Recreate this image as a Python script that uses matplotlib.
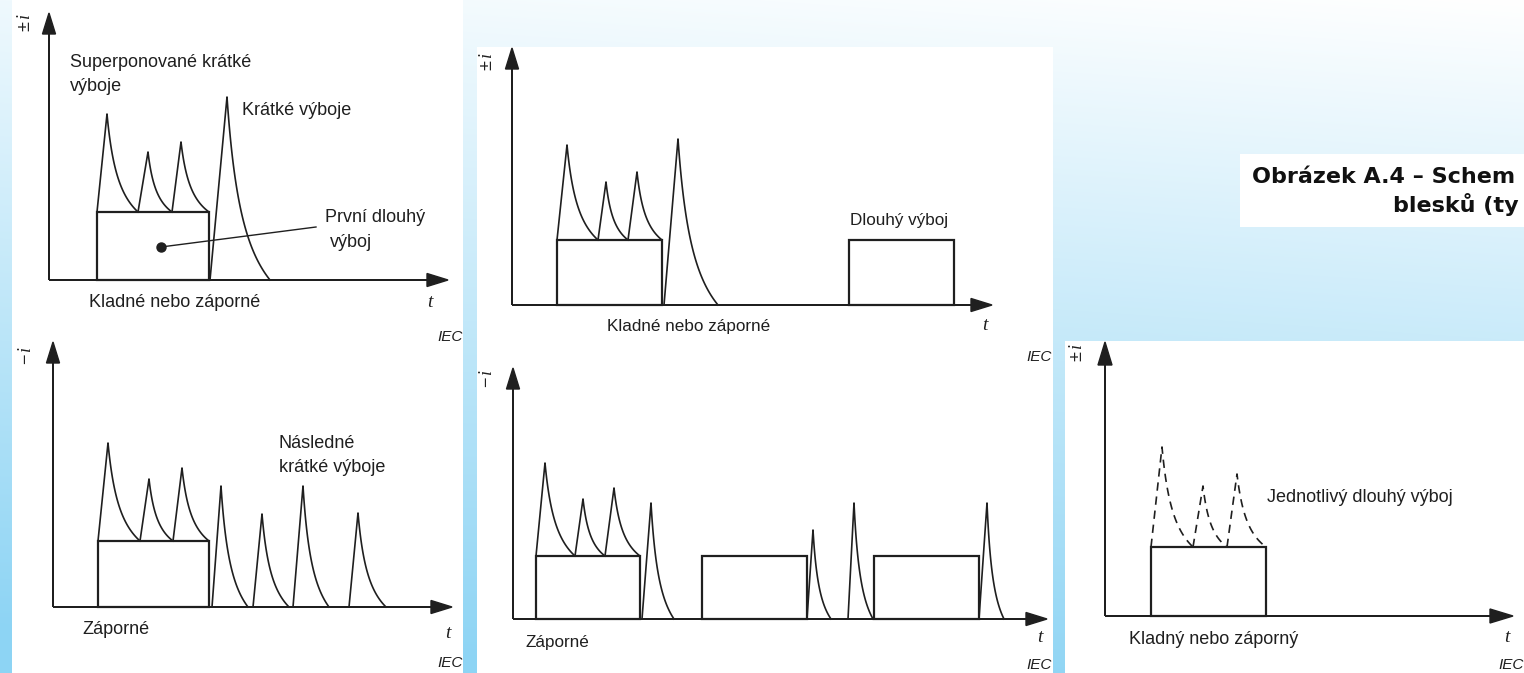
import numpy as np
import matplotlib.pyplot as plt
from matplotlib.patches import Rectangle

plt.rcParams['font.family'] = ['Liberation Sans', 'DejaVu Sans']
plt.rcParams['mathtext.fontset'] = 'custom'
plt.rcParams['mathtext.rm'] = 'Liberation Sans'
plt.rcParams['mathtext.it'] = 'Liberation Serif:italic'

W, H = 1524, 673
INK = '#1f1f1f'
SKY = np.array([141, 212, 244]) / 255.0

# ---- data: schematic time t / current i, measured from each panel's origin
# long strokes: (start, end, level); pulses: (start, t_peak, i_peak, end)
A_LONG = [(48, 160, 68)]
A_SUPER = [(48, 58, 166, 89), (89, 99, 128, 123), (123, 132, 138, 160)]
A_SHORT = [(161, 178, 183, 221)]

B_LONG = [(45, 150, 65), (337, 442, 65)]
B_SUPER = [(45, 55, 160, 86), (86, 94, 123, 116), (116, 125, 133, 150)]
B_SHORT = [(152, 166, 166, 206)]

C_LONG = [(45, 156, 66)]
C_SUPER = [(45, 55, 164, 87), (87, 96, 128, 120), (120, 129, 139, 156)]
C_SHORT = [(159, 168, 121, 195), (200, 209, 93, 236), (240, 250, 121, 276), (296, 305, 94, 333)]

D_LONG = [(23, 127, 63), (189, 294, 63), (361, 466, 63)]
D_SUPER = [(23, 32, 156, 62), (62, 70, 120, 92), (92, 101, 131, 127)]
D_SHORT = [(129, 138, 116, 161), (294, 300, 89, 318), (335, 341, 116, 360), (466, 474, 116, 491)]

E_LONG = [(46, 161, 69)]
E_SUPER = [(46, 57, 169, 88), (88, 98, 130, 122), (122, 132, 142, 161)]

fig = plt.figure(figsize=(W / 100, H / 100), dpi=100)

# pozadi s prechodem do modre
bg = fig.add_axes([0, 0, 1, 1])
yy, xx = np.mgrid[0:H, 0:W]
k = np.clip(yy / H * 0.92 + (1 - xx / W) * 0.14, 0, 1)[..., None]
bg.imshow(1 - k * (1 - SKY), extent=(0, W, H, 0), aspect='auto')
bg.set_xlim(0, W)
bg.set_ylim(H, 0)
bg.axis('off')
for x0, y0, x1, y1 in [(12, 0, 463, H), (477, 47, 1053, H), (1065, 341, W, H), (1240, 154, W, 227)]:
    bg.add_patch(Rectangle((x0, y0), x1 - x0, y1 - y0, fc='white', ec='none'))
bg.text(1252, 177, 'Obrázek A.4 – Schem', fontfamily=['DejaVu Sans'], fontweight='bold',
        fontsize=16, ha='left', va='center', color='#111111', clip_on=True)
bg.text(1393, 205, 'blesků (ty', fontfamily=['DejaVu Sans'], fontweight='bold',
        fontsize=16, ha='left', va='center', color='#111111', clip_on=True)


def panel(ox, oy, tx, ty, ylab, lab_xy, hl=21, hw=13):
    ax = fig.add_axes([ox / W, 1 - oy / H, (tx - ox) / W, (oy - ty) / H])
    L, M = tx - ox, oy - ty
    ax.set_xlim(0, L)
    ax.set_ylim(0, M)
    ax.axis('off')
    for dx, dy in [(L, 0), (0, M)]:
        ax.arrow(0, 0, dx, dy, width=0, head_width=hw, head_length=hl,
                 length_includes_head=True, fc=INK, ec=INK, lw=1.0, clip_on=False)
    ax.text(lab_xy[0], lab_xy[1], ylab, rotation=90, fontsize=13, ha='center',
            va='center', color=INK, clip_on=False)
    return ax


def pulse(ax, s, tp, ip, e, base, ls='-'):
    # linearni celo, pak rychly pokles s dlouhym tylem
    u = np.linspace(0, 1, 80)
    t = np.r_[s, tp + (e - tp) * u]
    i = np.r_[base, base + (ip - base) * (1 - u) / (1 + 2.4 * u)]
    ax.plot(t, i, color=INK, lw=1.2, ls=ls, clip_on=False)


def draw(ax, longs, supers, shorts, ls='-'):
    for s, e, lev in longs:
        ax.add_patch(Rectangle((s, 0), e - s, lev, fill=False, ec=INK, lw=1.6, clip_on=False))
    base = longs[0][2]
    for s, tp, ip, e in supers:
        pulse(ax, s, tp, ip, e, base, ls)
    for s, tp, ip, e in shorts:
        pulse(ax, s, tp, ip, e, 0)


def txt(ax, x, y, s, size=13, ha='left'):
    ax.text(x, y, s, fontsize=size, ha=ha, va='center', color=INK, clip_on=False)


def tlab(ax, x, y):
    ax.text(x, y, 't', fontfamily=['Liberation Serif', 'DejaVu Serif'], style='italic',
            fontsize=14, ha='center', va='center', color=INK, clip_on=False)


def iec(ax, x, y):
    ax.text(x, y, 'IEC', style='italic', fontsize=11, ha='right', va='center',
            color=INK, clip_on=False)


# panel A - kladne nebo zaporne
a = panel(49, 280, 448, 13, r'$\pm\,i$', (-24, 257))
draw(a, A_LONG, A_SUPER, A_SHORT)
txt(a, 21, 218, 'Superponované krátké')
txt(a, 21, 194, 'výboje')
txt(a, 193, 170, 'Krátké výboje')
txt(a, 276, 63, 'První dlouhý')
txt(a, 281, 38, 'výboj')
a.plot([112, 267], [33, 53], color=INK, lw=1.0, clip_on=False)
a.plot([112], [33], 'o', color=INK, ms=6.5, clip_on=False)
txt(a, 40, -22, 'Kladné nebo záporné')
tlab(a, 381, -22)
iec(a, 414, -57)

# panel B
b = panel(512, 305, 992, 48, r'$\pm\,i$', (-24, 243))
draw(b, B_LONG, B_SUPER, B_SHORT)
txt(b, 338, 84, 'Dlouhý výboj', 12.3)
txt(b, 95, -22, 'Kladné nebo záporné', 12.3)
tlab(b, 473, -21)
iec(b, 540, -52)

# panel C - zaporne
c = panel(53, 607, 452, 342, r'$-\,i$', (-27, 252))
draw(c, C_LONG, C_SUPER, C_SHORT)
txt(c, 226, 164, 'Následné')
txt(c, 226, 140, 'krátké výboje')
txt(c, 29, -23, 'Záporné')
tlab(c, 395, -26)
iec(c, 410, -56)

# panel D
d = panel(513, 619, 1047, 368, r'$-\,i$', (-25, 241))
draw(d, D_LONG, D_SUPER, D_SHORT)
txt(d, 12, -24, 'Záporné', 12.3)
tlab(d, 527, -18)
iec(d, 539, -46)

# panel E - jednotlivy dlouhy vyboj
e = panel(1105, 616, 1513, 342, r'$\pm\,i$', (-27, 263), hl=23, hw=14)
draw(e, E_LONG, E_SUPER, [], ls=(0, (5, 3.5)))
txt(e, 162, 118, 'Jednotlivý dlouhý výboj')
txt(e, 24, -24, 'Kladný nebo záporný')
tlab(e, 402, -22)
iec(e, 419, -49)

fig.savefig('out.png', dpi=100)
